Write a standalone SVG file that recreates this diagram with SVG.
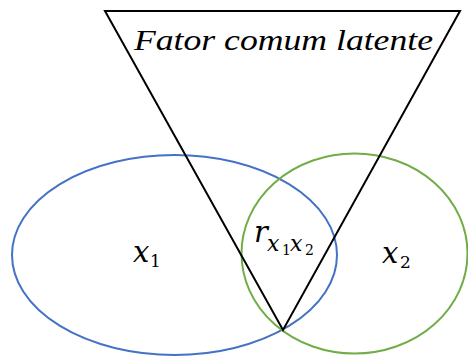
<svg xmlns="http://www.w3.org/2000/svg" width="468" height="356" viewBox="0 0 468 356">
<style>
.t{font-family:"Liberation Serif","DejaVu Serif",serif;font-style:italic;fill:#000}
.v{font-family:"DejaVu Serif","Liberation Serif",serif;font-style:italic;fill:#000}
.m{font-size:29px}
.s{font-size:17px;font-style:normal}
.ss{font-size:14px;font-style:normal}
</style>
<rect width="468" height="356" fill="#fff"/>
<g id="x1"><ellipse cx="174.5" cy="255" rx="162.5" ry="100" fill="none" stroke="#4472C4" stroke-width="2"/>
<text class="v m" x="133" y="262">x<tspan class="s" x="150" dy="5">1</tspan></text></g>
<g id="x2"><ellipse cx="354.5" cy="253.5" rx="113" ry="100" fill="none" stroke="#70AD47" stroke-width="2"/>
<text class="v m" x="382" y="263">x<tspan class="s" x="400" dy="5">2</tspan></text></g>
<g id="fator"><polygon points="105,11 460,11 283,330" fill="none" stroke="#000" stroke-width="2" stroke-linejoin="miter"/>
<text class="t" x="134" y="50" font-size="30" textLength="299" lengthAdjust="spacingAndGlyphs">Fator comum latente</text></g>
<g id="r"><text class="v m" x="254" y="241.5">r<tspan font-size="22" x="267" dy="9.5">x</tspan><tspan class="ss" x="282" dy="3.5">1</tspan><tspan font-size="22" x="290" dy="-3.5">x</tspan><tspan class="ss" x="305" dy="3.5">2</tspan></text></g>
<g id="connectors"></g>
</svg>
